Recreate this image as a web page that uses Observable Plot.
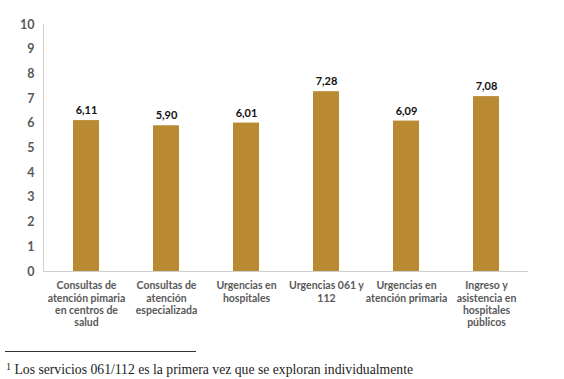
<!DOCTYPE html>
<html><head><meta charset="utf-8">
<script src="https://cdn.jsdelivr.net/npm/d3@7"></script>
<script src="https://cdn.jsdelivr.net/npm/@observablehq/plot@0.6"></script>
<style>
body{margin:0;background:#fff;}
#chart svg{display:block;}
#rule{margin-left:5px;margin-top:11px;width:191px;height:0;border-top:1px solid #333;}
#note{margin-left:6px;margin-top:10px;font-family:"Liberation Serif",serif;font-size:13.7px;line-height:16px;color:#222;white-space:nowrap;}
#note sup{font-size:10px;line-height:0;vertical-align:4px;}
</style></head>
<body><div id="chart"></div><div id="rule"></div><div id="note"><sup>1</sup> Los servicios 061/112 es la primera vez que se exploran individualmente</div>
<script>
const categories = [
  "Consultas de\natención pimaria\nen centros de\nsalud",
  "Consultas de\natención\nespecializada",
  "Urgencias en\nhospitales",
  "Urgencias 061 y\n112",
  "Urgencias en\natención primaria",
  "Ingreso y\nasistencia en\nhospitales\npúblicos"
];
const values = [6.11, 5.90, 6.01, 7.28, 6.09, 7.08];
const labels = ["6,11", "5,90", "6,01", "7,28", "6,09", "7,08"];
const yTicks = [0,1,2,3,4,5,6,7,8,9,10];

const data = categories.map((c, i) => ({cat: c, v: values[i], lab: labels[i]}));
const font = "Lato, 'Open Sans', sans-serif";

const chart = Plot.plot({
  width: 564,
  height: 340,
  marginLeft: 43,
  marginRight: 36,
  marginTop: 24,
  marginBottom: 69,
  style: {fontFamily: font, background: "#fff"},
  x: {domain: categories, paddingInner: 0.68, paddingOuter: 0.34, label: null},
  y: {domain: [0, 10], label: null},
  marks: [
    Plot.barY(data, {x: "cat", y: "v", fill: "#b98a32"}),
    Plot.ruleY([0], {stroke: "#d0d0d0", strokeWidth: 1}),
    Plot.frame({anchor: "left", stroke: "#d0d0d0"}),
    Plot.text(data, {x: "cat", y: "v", text: "lab", dy: -10, fontWeight: "bold", fontSize: 11, fill: "#111"}),
    Plot.axisY({ticks: yTicks, tickSize: 0, tickPadding: 9, fontSize: 12.5, fontWeight: "bold", fill: "#595959", tickFormat: d => String(d)}),
    Plot.axisX({tickSize: 0, tickPadding: 9, fontSize: 10.5, fontWeight: "bold", fill: "#595959", lineHeight: 1.17, textAnchor: "middle"})
  ]
});
document.getElementById("chart").appendChild(chart);
</script>
</body></html>
